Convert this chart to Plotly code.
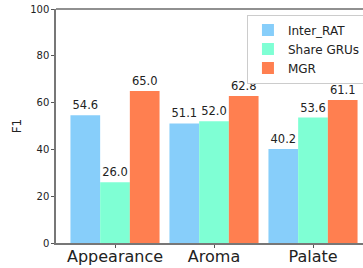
import plotly.graph_objects as go

categories = ["Appearance", "Aroma", "Palate"]
inter_rat = [54.6, 51.1, 40.2]
share_grus = [26.0, 52.0, 53.6]
mgr = [65.0, 62.8, 61.1]
series_names = ["Inter_RAT", "Share GRUs", "MGR"]
colors = ["#87CEFA", "#7FFFD4", "#FF7F50"]
y_ticks = [0, 20, 40, 60, 80, 100]

fig = go.Figure()
for name, vals, c in zip(series_names, [inter_rat, share_grus, mgr], colors):
    fig.add_trace(go.Bar(
        x=list(range(len(categories))), y=vals, name=name, marker_color=c,
        marker_line_width=0,
        text=[f"{v:.1f}" for v in vals], textposition="outside",
        textfont=dict(size=11.5, color="#222"), cliponaxis=False,
    ))

fig.update_layout(
    width=363, height=268,
    margin=dict(l=56, r=0, t=9, b=25, autoexpand=False),
    barmode="group", bargap=0.1, bargroupgap=0,
    plot_bgcolor="white", paper_bgcolor="white",
    font=dict(family="DejaVu Sans", color="#222"),
    legend=dict(x=0.622, y=0.976, xanchor="left", yanchor="top",
                bordercolor="#ccc", borderwidth=1, bgcolor="white",
                font=dict(size=12), tracegroupgap=0),
    uniformtext=dict(mode=False),
)
fig.update_xaxes(
    range=[-0.596, 2.505], tickmode="array", automargin=False,
    tickvals=list(range(len(categories))), ticktext=categories,
    tickfont=dict(size=16), ticks="outside", ticklen=3, tickcolor="#555",
    ticklabelstandoff=-5,
    showline=True, linecolor="#777", linewidth=1.5, showgrid=False, zeroline=False,
)
fig.update_yaxes(
    range=[0, 100], tickvals=y_ticks, tickfont=dict(size=10), automargin=False,
    ticks="outside", ticklen=3, tickcolor="#555",
    showline=True, linecolor="#777", linewidth=1.5, showgrid=False, zeroline=False,
    title=dict(text="F1", font=dict(size=12), standoff=6),
)
fig.add_shape(type="line", xref="paper", yref="paper", x0=0, x1=1, y0=1, y1=1,
              line=dict(color="#222", width=1.2))
fig.write_html("out.html", config={"displayModeBar": False},
               post_script="document.body.style.margin='0';document.body.style.overflow='hidden';")
